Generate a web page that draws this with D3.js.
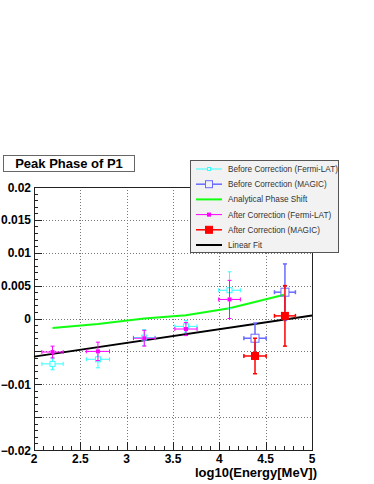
<!DOCTYPE html>
<html>
<head>
<meta charset="utf-8">
<script src="https://cdn.jsdelivr.net/npm/d3@7"></script>
<style>
  body { margin: 0; background: #fff; }
  svg text { font-family: "Liberation Sans", Arial, sans-serif; }
</style>
</head>
<body>
<div id="chart"></div>
<script>
// energy bins (log10 E/MeV) and horizontal half widths
const energyFermi = [2.2, 2.69, 3.19, 3.64, 4.11]
const energyFermiErr = [0.115, 0.125, 0.117, 0.12, 0.117]
// peak phase before / after correction, Fermi-LAT
const beforeFermi = [-0.0069, -0.0062, -0.0029, -0.0012, 0.0043]
const beforeFermiErr = [0.0009, 0.0013, 0.0012, 0.0009, 0.0028]
const afterFermi = [-0.0051, -0.005, -0.003, -0.0016, 0.0029]
const afterFermiErr = [0.0009, 0.0014, 0.0012, 0.001, 0.0029]
// MAGIC
const energyMagic = [4.385, 4.708]
const energyMagicErr = [0.12, 0.113]
const beforeMagic = [-0.003, 0.004]
const beforeMagicErr = [0.0023, 0.0043]
const afterMagic = [-0.0057, 0.0004]
const afterMagicErr = [0.0027, 0.0046]
// analytical phase shift
const analyticalX = [2.2, 2.69, 3.19, 3.64, 4.11, 4.7]
const analyticalY = [-0.00145, -0.00084, 0.0, 0.0005, 0.00155, 0.0036]
// linear fit end points
const fitX = [2, 5]
const fitY = [-0.0058, 0.00044]
// axes
const xTicks = [2, 2.5, 3, 3.5, 4, 4.5, 5]
const yTicks = [0.02, 0.015, 0.01, 0.005, 0, -0.005, -0.01, -0.015, -0.02]
const yLabels = [0.02, 0.015, 0.01, 0.005, 0, -0.01, -0.02]
const legendLabels = [
  'Before Correction (Fermi-LAT)',
  'Before Correction (MAGIC)',
  'Analytical Phase Shift',
  'After Correction (Fermi-LAT)',
  'After Correction (MAGIC)',
  'Linear Fit',
]

const W = 374, H = 484
const frame = { left: 34, right: 312, top: 187, bottom: 450 }

const svg = d3.select('#chart').append('svg').attr('width', W).attr('height', H)
svg.append('rect').attr('width', W).attr('height', H).attr('fill', '#fff')

const x = d3.scaleLinear().domain([2, 5]).range([frame.left, frame.right])
const y = d3.scaleLinear().domain([-0.02, 0.02]).range([frame.bottom, frame.top])

const cyan = '#3ff', blue = '#6a6aff', green = '#1f1', magenta = '#f0f', red = '#f00'

// grid
const grid = svg.append('g').attr('stroke', '#777').attr('stroke-width', 1).attr('stroke-dasharray', '1,2')
grid.selectAll('.gx').data(xTicks.slice(1, -1)).join('line')
  .attr('x1', (d) => Math.round(x(d)) + 0.5).attr('x2', (d) => Math.round(x(d)) + 0.5)
  .attr('y1', frame.top).attr('y2', frame.bottom)
grid.selectAll('.gy').data(yTicks.slice(1, -1)).join('line')
  .attr('y1', (d) => Math.round(y(d)) + 0.5).attr('y2', (d) => Math.round(y(d)) + 0.5)
  .attr('x1', frame.left).attr('x2', frame.right)

// minor ticks
const axes = svg.append('g').attr('stroke', '#222').attr('stroke-width', 1)
axes.selectAll('.mx').data(d3.range(2, 5.001, 0.1)).join('line')
  .attr('x1', (d) => Math.round(x(d)) + 0.5).attr('x2', (d) => Math.round(x(d)) + 0.5)
  .attr('y1', frame.bottom).attr('y2', (d, i) => frame.bottom - (i % 5 === 0 ? 8 : 4))
axes.selectAll('.my').data(d3.range(-0.02, 0.02001, 0.001)).join('line')
  .attr('y1', (d) => Math.round(y(d)) + 0.5).attr('y2', (d) => Math.round(y(d)) + 0.5)
  .attr('x1', frame.left).attr('x2', (d, i) => frame.left + (i % 5 === 0 ? 8 : 4))

// frame
svg.append('rect')
  .attr('x', frame.left + 0.5).attr('y', frame.top + 0.5)
  .attr('width', frame.right - frame.left).attr('height', frame.bottom - frame.top)
  .attr('fill', 'none').attr('stroke', '#222')

// tick labels
svg.append('g').selectAll('text').data(yLabels).join('text')
  .attr('x', frame.left - 3).attr('y', (d) => y(d) + 4.5)
  .attr('text-anchor', 'end').attr('font-size', 12).attr('font-weight', 'bold')
  .text((d) => d3.format('~g')(d))
svg.append('g').selectAll('text').data(xTicks).join('text')
  .attr('x', (d) => x(d)).attr('y', frame.bottom + 13)
  .attr('text-anchor', 'middle').attr('font-size', 12).attr('font-weight', 'bold')
  .text((d) => d)
svg.append('text').attr('x', 317).attr('y', 477).attr('text-anchor', 'end')
  .attr('font-size', 13).attr('font-weight', 'bold').text('log10(Energy[MeV])')

// analytical and fit lines
const line = d3.line().x((d) => x(d[0])).y((d) => y(d[1]))
svg.append('path').attr('d', line(d3.zip(analyticalX, analyticalY)))
  .attr('fill', 'none').attr('stroke', green).attr('stroke-width', 2)
svg.append('path').attr('d', line(d3.zip(fitX, fitY)))
  .attr('fill', 'none').attr('stroke', '#000').attr('stroke-width', 2)

// error bar series
function drawSeries(xs, xe, ys, ye, color, size, filled, width) {
  const g = svg.append('g').attr('stroke', color).attr('stroke-width', width)
  const cap = 2
  xs.forEach((xv, i) => {
    const cx = x(xv), cy = y(ys[i]), h = size / 2
    const x0 = x(xv - xe[i]), x1 = x(xv + xe[i])
    const y0 = y(ys[i] + ye[i]), y1 = y(ys[i] - ye[i])
    const segs = [
      [x0, cy, cx - h, cy], [cx + h, cy, x1, cy],
      [cx, y0, cx, cy - h], [cx, cy + h, cx, y1],
      [x0, cy - cap, x0, cy + cap], [x1, cy - cap, x1, cy + cap],
      [cx - cap, y0, cx + cap, y0], [cx - cap, y1, cx + cap, y1],
    ]
    segs.forEach((s) => g.append('line').attr('x1', s[0]).attr('y1', s[1]).attr('x2', s[2]).attr('y2', s[3]))
    g.append('rect').attr('x', cx - h).attr('y', cy - h).attr('width', size).attr('height', size)
      .attr('fill', filled ? color : 'none').attr('stroke-width', filled ? 0 : 1)
  })
}
drawSeries(energyFermi, energyFermiErr, beforeFermi, beforeFermiErr, cyan, 5, false, 1)
drawSeries(energyFermi, energyFermiErr, afterFermi, afterFermiErr, magenta, 4, true, 1)
drawSeries(energyMagic, energyMagicErr, beforeMagic, beforeMagicErr, blue, 8, false, 1.5)
drawSeries(energyMagic, energyMagicErr, afterMagic, afterMagicErr, red, 8, true, 1.5)

// title box
svg.append('rect').attr('x', 3.5).attr('y', 155.5).attr('width', 131).attr('height', 16)
  .attr('fill', '#fff').attr('stroke', '#666')
svg.append('text').attr('x', 69).attr('y', 168).attr('text-anchor', 'middle')
  .attr('font-size', 13).attr('font-weight', 'bold').text('Peak Phase of P1')

// legend
const lg = svg.append('g')
lg.append('rect').attr('x', 190.5).attr('y', 160.5).attr('width', 148).attr('height', 92)
  .attr('fill', '#f2f2f2').attr('stroke', '#555')
const legendStyle = [
  { color: cyan, size: 3, filled: false, width: 1 },
  { color: blue, size: 7, filled: false, width: 1.5 },
  { color: green, size: 0, filled: false, width: 2 },
  { color: magenta, size: 3, filled: true, width: 1 },
  { color: red, size: 7, filled: true, width: 1.5 },
  { color: '#000', size: 0, filled: false, width: 2 },
]
legendLabels.forEach((label, i) => {
  const ly = 169 + i * 15.2
  const st = legendStyle[i]
  lg.append('line').attr('x1', 196).attr('x2', 222).attr('y1', ly).attr('y2', ly)
    .attr('stroke', st.color).attr('stroke-width', st.width)
  if (st.size) {
    lg.append('rect').attr('x', 209 - st.size / 2).attr('y', ly - st.size / 2)
      .attr('width', st.size).attr('height', st.size)
      .attr('fill', st.filled ? st.color : '#f2f2f2').attr('stroke', st.color)
  }
  lg.append('text').attr('x', 228).attr('y', ly + 3).attr('font-size', 8.2).attr('fill', '#333').text(label)
})
</script>
</body>
</html>
